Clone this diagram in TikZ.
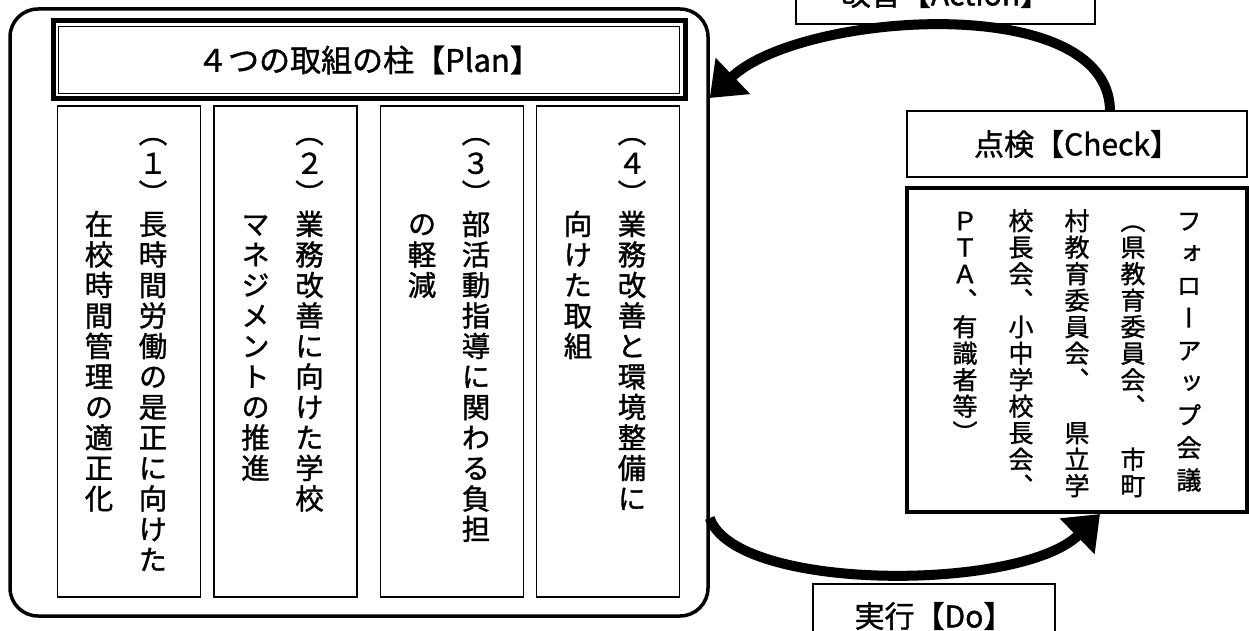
\documentclass[tikz,border=0pt]{standalone}
\usepackage{fontspec}
\setmainfont{Noto Sans CJK JP}[FakeBold=1.2]
\newfontfamily\tatefont[RawFeature=+vert,FakeBold=1.2]{Noto Sans CJK JP}
\usetikzlibrary{arrows.meta,calc}
\makeatletter
% one glyph per cell, cells stacked downwards
\newcommand\tate[2]{\vbox{\baselineskip=#1pt\lineskiplimit=-\maxdimen\lineskip=0pt\expandafter\tate@loop#2\tate@end}}
\def\tate@end{\tate@end@}
\def\tate@loop#1{\ifx#1\tate@end\else\hbox to 1em{\hss\vrule height .88em depth .12em width 0pt\relax#1\hss}\expandafter\tate@loop\fi}
\makeatother
\tikzset{
  box/.style={draw,line width=1.5pt,inner sep=0pt},
  yoko/.style={font=\fontsize{30}{32}\selectfont},
  tatecol/.style={inner sep=0pt,anchor=north,font=\tatefont\fontsize{28.5}{30}\selectfont},
  tatefol/.style={inner sep=0pt,anchor=north,font=\tatefont\fontsize{25}{26}\selectfont},
  cyclearrow/.style={line width=10pt,-{Triangle[length=32pt,width=48pt]}}
}
\begin{document}
\begin{tikzpicture}[x=1pt,y=-1pt]
\useasboundingbox (0,0) rectangle (1249,631);
\fill[white] (0,0) rectangle (1249,631);
%plan frame
\node[box,line width=3.5pt,rounded corners=28pt,minimum width=698pt,minimum height=607pt] (plan) at (359,312.5) {};
%title bar
\node[box,line width=5pt,minimum width=632pt,minimum height=78pt,yoko,font=\fontsize{31}{32}\selectfont] (title) at (369,60) {４つの取組の柱【Plan】};
\draw[line width=1.5pt] ($(title.north west)+(8,8)$) rectangle ($(title.south east)+(-8,-8)$);
%four pillars
\foreach \n/\x/\ta/\tb in {1/129/（１）長時間労働の是正に向けた/在校時間管理の適正化,2/285.5/（２）業務改善に向けた学校/マネジメントの推進,3/452/（３）部活動指導に関わる負担/の軽減,4/608/（４）業務改善と環境整備に/向けた取組}
{
\node[box,minimum width=143pt,minimum height=491pt] (col\n) at (\x,351.5) {};
\node[tatecol] (colr\n) at (\x+24,118) {\tate{30.5}{\ta}};
\node[tatecol] (coll\n) at (\x-30,209.5) {\tate{30.5}{\tb}};
}
%check
\node[box,minimum width=340pt,minimum height=66pt,yoko] (check) at (1077,144) {点検【Check】};
\node[box,line width=4pt,minimum width=340pt,minimum height=324pt] (follow) at (1077,350) {};
\foreach \i/\p/\t in {0/32.4/フォローアップ会議,1/26.5/（県教育委員会、　市町,2/26.5/村教育委員会、　県立学,3/26.5/校長会、小中学校長会、,4/26.5/ＰＴＡ、有識者等）}
{
\node[tatefol] (fol\i) at (1189-56*\i,208) {\tate{\p}{\t}};
}
%action and do
\node[box,minimum width=299pt,minimum height=60pt,yoko] (action) at (945.5,-6) {改善【Action】};
\node[box,minimum width=242pt,minimum height=64pt,yoko] (doing) at (934,616) {実行【Do】};
%cycle arrows
\draw[cyclearrow] (check.north -| 1110,0) .. controls (1108,-10) and (800,12) .. (plan.east |- 0,98);
\draw[cyclearrow] (plan.east |- 0,518) .. controls (735,592) and (1020,592) .. (follow.south -| 1100,0);
\end{tikzpicture}
\end{document}
